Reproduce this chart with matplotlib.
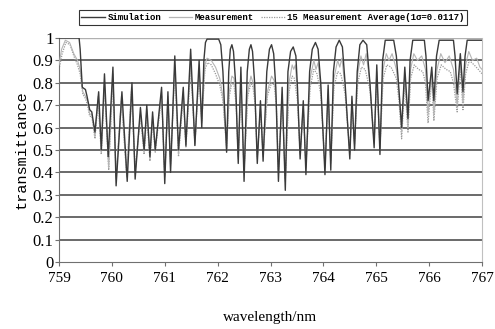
import matplotlib
matplotlib.use("Agg")
import matplotlib.pyplot as plt
from matplotlib.lines import Line2D

# ---- data ----
sim_pts = [
    (759.00, 1.00), (759.38, 1.00), (759.40, 0.95), (759.44, 0.78), (759.50, 0.77), (759.53, 0.74),
    (759.58, 0.68), (759.62, 0.67), (759.68, 0.58), (759.75, 0.76), (759.80, 0.50), (759.86, 0.84),
    (759.93, 0.47), (760.02, 0.87), (760.08, 0.34), (760.19, 0.76), (760.29, 0.36), (760.38, 0.80),
    (760.44, 0.37), (760.54, 0.69), (760.61, 0.50), (760.66, 0.70), (760.72, 0.47), (760.77, 0.67),
    (760.82, 0.50), (760.94, 0.78), (761.00, 0.35), (761.06, 0.76), (761.11, 0.40), (761.19, 0.92),
    (761.26, 0.50), (761.35, 0.78), (761.40, 0.52), (761.49, 0.95), (761.57, 0.52), (761.65, 0.90),
    (761.70, 0.60),
    (761.74, 0.90), (761.77, 0.98), (761.80, 0.995), (762.02, 0.995), (762.06, 0.97), (762.10, 0.85), (762.17, 0.49),
    (762.21, 0.85), (762.24, 0.95), (762.27, 0.97), (762.30, 0.94), (762.34, 0.80), (762.39, 0.44), (762.44, 0.87), (762.50, 0.36),
    (762.56, 0.85), (762.60, 0.95), (762.63, 0.97), (762.66, 0.94), (762.70, 0.80), (762.75, 0.44), (762.81, 0.72), (762.86, 0.45),
    (762.93, 0.85), (762.98, 0.95), (763.02, 0.97), (763.06, 0.93), (763.10, 0.78), (763.15, 0.36), (763.22, 0.78), (763.28, 0.32),
    (763.33, 0.85), (763.38, 0.94), (763.43, 0.96), (763.48, 0.92), (763.51, 0.78), (763.56, 0.46), (763.62, 0.72), (763.67, 0.39),
    (763.74, 0.85), (763.79, 0.95), (763.85, 0.98), (763.90, 0.95), (763.95, 0.80), (764.03, 0.39), (764.09, 0.79), (764.14, 0.41),
    (764.19, 0.85), (764.24, 0.96), (764.30, 0.99), (764.36, 0.96), (764.41, 0.80), (764.50, 0.46), (764.54, 0.74), (764.59, 0.50),
    (764.64, 0.85), (764.69, 0.97), (764.75, 0.99), (764.82, 0.97), (764.88, 0.80), (764.96, 0.51), (765.01, 0.88), (765.07, 0.48),
    (765.12, 0.90), (765.17, 0.99), (765.33, 0.99), (765.38, 0.92), (765.42, 0.80), (765.48, 0.60), (765.54, 0.87), (765.60, 0.64),
    (765.64, 0.90), (765.69, 0.99), (765.91, 0.99), (765.94, 0.92), (765.98, 0.72), (766.05, 0.87), (766.09, 0.72),
    (766.14, 0.92), (766.19, 0.99), (766.46, 0.99), (766.49, 0.92), (766.53, 0.75), (766.59, 0.93), (766.64, 0.76),
    (766.68, 0.92), (766.72, 0.99), (767.00, 0.99),
]
meas_pts = [
    (759.00, 0.88), (759.05, 0.95), (759.12, 0.99), (759.20, 0.98), (759.28, 0.93), (759.35, 0.90), (759.40, 0.86),
    (759.45, 0.76), (759.50, 0.74), (759.54, 0.72), (759.58, 0.66), (759.62, 0.66), (759.68, 0.56), (759.74, 0.74),
    (759.80, 0.49), (759.86, 0.80), (759.94, 0.42), (760.02, 0.84), (760.08, 0.37), (760.18, 0.74), (760.28, 0.38),
    (760.37, 0.78), (760.44, 0.40), (760.54, 0.66), (760.61, 0.49), (760.66, 0.68), (760.72, 0.46), (760.77, 0.65),
    (760.82, 0.50), (760.94, 0.76), (761.00, 0.38), (761.06, 0.74), (761.11, 0.43), (761.19, 0.88), (761.26, 0.48),
    (761.35, 0.76), (761.40, 0.52), (761.49, 0.90), (761.57, 0.52), (761.65, 0.86), (761.70, 0.62),
    (761.76, 0.88), (761.80, 0.91), (761.88, 0.90), (761.96, 0.87), (762.04, 0.82), (762.10, 0.74), (762.17, 0.50),
    (762.22, 0.76), (762.27, 0.83), (762.31, 0.82), (762.35, 0.72), (762.39, 0.46), (762.44, 0.80), (762.50, 0.40),
    (762.57, 0.76), (762.63, 0.83), (762.67, 0.80), (762.71, 0.72), (762.75, 0.46), (762.81, 0.70), (762.86, 0.47),
    (762.94, 0.76), (763.02, 0.83), (763.07, 0.81), (763.11, 0.72), (763.15, 0.40), (763.22, 0.75), (763.28, 0.36),
    (763.35, 0.80), (763.41, 0.88), (763.44, 0.86), (763.47, 0.88), (763.51, 0.75), (763.56, 0.48), (763.62, 0.70), (763.67, 0.42),
    (763.75, 0.82), (763.82, 0.90), (763.86, 0.86), (763.90, 0.89), (763.95, 0.78), (764.03, 0.42), (764.09, 0.77), (764.14, 0.44),
    (764.20, 0.82), (764.27, 0.90), (764.31, 0.87), (764.35, 0.91), (764.41, 0.78), (764.50, 0.48), (764.54, 0.72), (764.59, 0.52),
    (764.65, 0.84), (764.71, 0.92), (764.76, 0.88), (764.81, 0.93), (764.88, 0.80), (764.96, 0.53), (765.01, 0.85), (765.07, 0.50),
    (765.13, 0.86), (765.19, 0.93), (765.24, 0.90), (765.30, 0.93), (765.38, 0.86), (765.43, 0.75), (765.48, 0.58), (765.54, 0.84), (765.60, 0.60),
    (765.65, 0.86), (765.71, 0.93), (765.78, 0.90), (765.86, 0.92), (765.93, 0.86), (765.98, 0.66), (766.05, 0.85), (766.09, 0.66),
    (766.15, 0.86), (766.22, 0.93), (766.30, 0.89), (766.38, 0.92), (766.46, 0.86), (766.53, 0.70), (766.59, 0.90), (766.64, 0.71),
    (766.69, 0.88), (766.75, 0.94), (766.82, 0.90), (766.90, 0.91), (766.96, 0.87), (767.00, 0.86),
]
avg_pts = [
    (759.00, 0.86), (759.06, 0.93), (759.13, 0.98), (759.21, 0.97), (759.28, 0.92), (759.35, 0.88), (759.40, 0.84),
    (759.45, 0.75), (759.50, 0.73), (759.54, 0.70), (759.58, 0.65), (759.62, 0.65), (759.68, 0.55), (759.74, 0.72),
    (759.80, 0.48), (759.86, 0.78), (759.94, 0.41), (760.02, 0.82), (760.08, 0.38), (760.18, 0.72), (760.28, 0.39),
    (760.37, 0.76), (760.44, 0.41), (760.54, 0.65), (760.61, 0.48), (760.66, 0.66), (760.72, 0.45), (760.77, 0.63),
    (760.82, 0.49), (760.94, 0.74), (761.00, 0.39), (761.06, 0.72), (761.11, 0.44), (761.19, 0.86), (761.26, 0.47),
    (761.35, 0.74), (761.40, 0.51), (761.49, 0.87), (761.57, 0.53), (761.65, 0.84), (761.70, 0.63),
    (761.76, 0.86), (761.81, 0.89), (761.88, 0.88), (761.96, 0.84), (762.04, 0.79), (762.10, 0.72), (762.17, 0.51),
    (762.22, 0.74), (762.27, 0.80), (762.31, 0.79), (762.35, 0.70), (762.39, 0.47), (762.44, 0.78), (762.50, 0.41),
    (762.57, 0.74), (762.63, 0.80), (762.67, 0.78), (762.71, 0.70), (762.75, 0.47), (762.81, 0.68), (762.86, 0.48),
    (762.94, 0.74), (763.02, 0.80), (763.07, 0.79), (763.11, 0.70), (763.15, 0.41), (763.22, 0.73), (763.28, 0.37),
    (763.35, 0.76), (763.41, 0.83), (763.45, 0.82), (763.51, 0.72), (763.56, 0.49), (763.62, 0.68), (763.67, 0.43),
    (763.75, 0.78), (763.82, 0.86), (763.88, 0.84), (763.95, 0.75), (764.03, 0.43), (764.09, 0.75), (764.14, 0.45),
    (764.20, 0.78), (764.27, 0.85), (764.33, 0.84), (764.41, 0.75), (764.50, 0.49), (764.54, 0.70), (764.59, 0.53),
    (764.65, 0.80), (764.72, 0.87), (764.79, 0.86), (764.88, 0.77), (764.96, 0.54), (765.01, 0.82), (765.07, 0.51),
    (765.13, 0.82), (765.20, 0.88), (765.28, 0.87), (765.38, 0.82), (765.43, 0.72), (765.48, 0.55), (765.54, 0.80), (765.60, 0.58),
    (765.65, 0.82), (765.72, 0.88), (765.80, 0.86), (765.88, 0.85), (765.93, 0.80), (765.98, 0.62), (766.05, 0.82), (766.09, 0.63),
    (766.15, 0.82), (766.23, 0.88), (766.32, 0.86), (766.40, 0.85), (766.46, 0.80), (766.53, 0.67), (766.59, 0.87), (766.64, 0.68),
    (766.69, 0.84), (766.76, 0.90), (766.85, 0.88), (766.93, 0.86), (767.00, 0.84),
]
sim_x = [p[0] for p in sim_pts]; sim_y = [p[1] for p in sim_pts]
meas_x = [p[0] for p in meas_pts]; meas_y = [p[1] for p in meas_pts]
avg_x = [p[0] for p in avg_pts]; avg_y = [p[1] for p in avg_pts]

x_ticks = [759, 760, 761, 762, 763, 764, 765, 766, 767]
y_ticks = [0, 0.1, 0.2, 0.3, 0.4, 0.5, 0.6, 0.7, 0.8, 0.9, 1]
y_tick_labels = ["0", "0.1", "0.2", "0.3", "0.4", "0.5", "0.6", "0.7", "0.8", "0.9", "1"]
labels = ["Simulation", "Measurement", "15 Measurement Average(1\u03c3=0.0117)"]

fig = plt.figure(figsize=(4.95, 3.29), dpi=100)
ax = fig.add_axes([59/495, 1-262/329, (482-59)/495, (262-38)/329])

for yv in y_ticks[1:-1]:
    ax.axhline(yv, color="#505050", lw=1.2, zorder=1)
ax.axhline(1.0, color="#b0b0b0", lw=1.0, zorder=1)

ax.plot(avg_x, avg_y, color="#9a9a9a", lw=0.9, ls=(0, (1, 1)), zorder=2)
ax.plot(meas_x, meas_y, color="#b5b5b5", lw=0.8, zorder=3)
ax.plot(sim_x, sim_y, color="#3a3a3a", lw=1.0, zorder=4)

ax.set_xlim(759, 767)
ax.set_ylim(0, 1)
ax.set_xticks(x_ticks)
ax.set_xticklabels([str(v) for v in x_ticks], family="Liberation Serif", fontsize=11)
ax.set_yticks(y_ticks)
ax.set_yticklabels(y_tick_labels, family="Liberation Serif", fontsize=12)
ax.tick_params(axis="both", length=3, width=0.8, color="#707070")
ax.tick_params(axis="y", pad=1)
ax.tick_params(axis="x", pad=4)
for s in ["left", "bottom"]:
    ax.spines[s].set_color("#707070")
    ax.spines[s].set_linewidth(0.8)
ax.spines["right"].set_color("#c0c0c0")
ax.spines["right"].set_linewidth(0.8)
ax.spines["top"].set_visible(False)

ax.set_ylabel("transmittance", family="Liberation Mono", fontsize=11, labelpad=3)
fig.text(270/495, 1-318/329, "wavelength/nm", family="Liberation Serif", fontsize=11,
         ha="center", va="center")

handles = [Line2D([], [], color="#3a3a3a", lw=1.0),
           Line2D([], [], color="#b5b5b5", lw=0.9),
           Line2D([], [], color="#9a9a9a", lw=0.9, ls=(0, (1, 1)))]
leg = fig.legend(handles, labels, loc="center", bbox_to_anchor=(273/495, 1-17.5/329), ncol=3,
                 prop={"family": "Liberation Mono", "size": 6.5, "weight": "bold"},
                 frameon=True, fancybox=False, edgecolor="black", handlelength=2.6,
                 handletextpad=0.3, columnspacing=0.8, borderpad=0.3, borderaxespad=0)
leg.get_frame().set_linewidth(0.8)

fig.savefig("out.png", dpi=100)
